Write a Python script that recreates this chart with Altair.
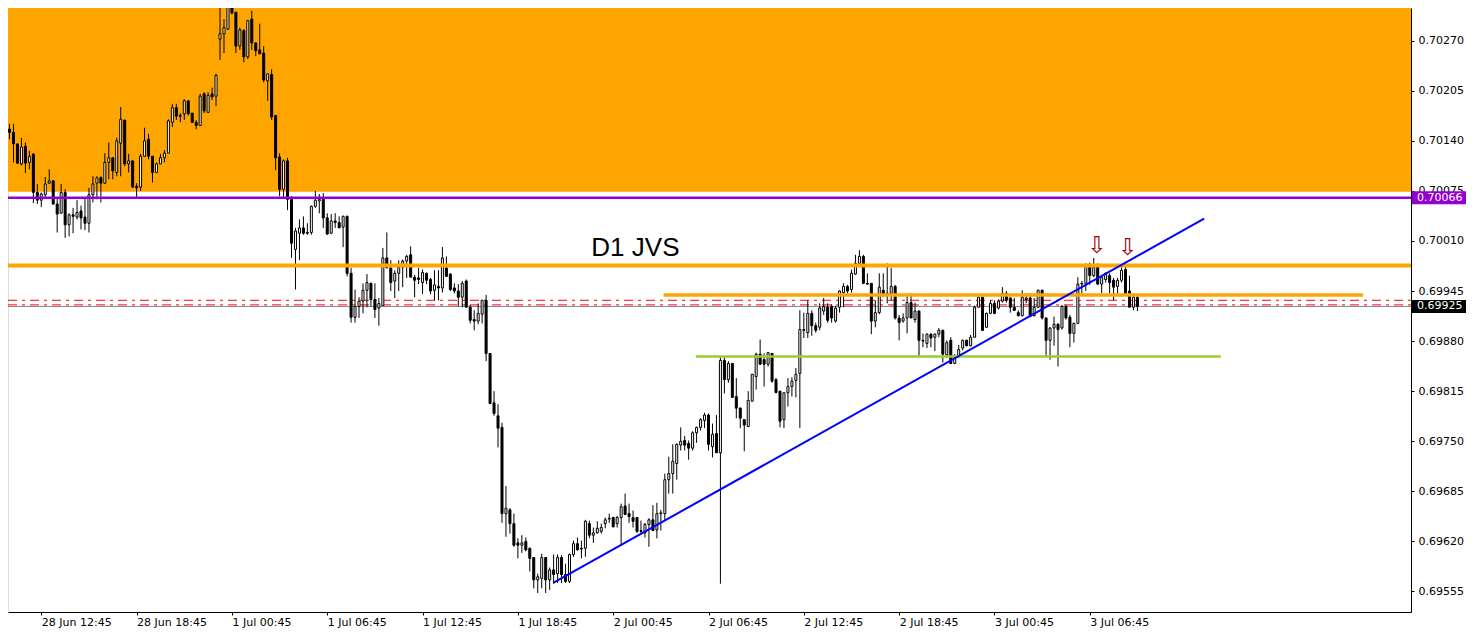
import altair as alt
import pandas as pd

# AUDUSD-like M15 candles, quotes in points (x 1e-5)
opens = [70137,70155,70151,70136,70110,70133,70112,70123,70073,70063,
70070,70085,70088,70058,70046,70073,70031,70044,70041,70049,
70041,70033,70070,70085,70092,70085,70112,70118,70099,70137,
70167,70110,70114,70081,70080,70120,70142,70120,70099,70110,
70118,70124,70164,70183,70173,70175,70192,70176,70164,70160,
70201,70177,70201,70198,70272,70279,70285,70316,70307,70263,
70283,70249,70298,70267,70258,70254,70218,70226,70173,70119,
70077,70114,70064,69999,70020,70027,70021,70021,70055,70062,
70064,70040,70020,70036,70034,70028,70042,69968,69911,69925,
69932,69946,69955,69934,69923,69926,69988,69975,69958,69968,
69976,69984,69992,69963,69962,69956,69968,69960,69946,69951,
69949,69975,69967,69949,69945,69937,69958,69924,69908,69906,
69915,69933,69864,69800,69783,69768,69656,69661,69643,69618,
69615,69620,69611,69599,69570,69572,69599,69570,69583,69578,
69599,69577,69568,69603,69617,69611,69611,69643,69628,69631,
69633,69643,69650,69651,69643,69651,69666,69656,69651,69651,
69634,69631,69642,69648,69635,69656,69656,69700,69708,69721,
69745,69751,69747,69741,69761,69768,69777,69784,69743,69760,
69735,69855,69830,69851,69808,69793,69778,69769,69802,69834,
69863,69856,69850,69864,69830,69815,69778,69813,69821,69829,
69838,69895,69891,69916,69900,69898,69919,69924,69925,69906,
69924,69943,69951,69947,69967,69981,69990,69955,69955,69906,
69917,69946,69942,69942,69951,69910,69906,69910,69930,69908,
69919,69881,69877,69889,69885,69889,69894,69862,69881,69851,
69859,69871,69881,69874,69885,69924,69937,69898,69916,69929,
69923,69932,69942,69936,69924,69917,69913,69934,69936,69913,
69924,69946,69910,69881,69897,69902,69897,69925,69911,69890,
69903,69954,69955,69977,69965,69976,69954,69960,69965,69959,
69951,69959,69973,69945,69924,69937]

highs = [70162,70162,70162,70136,70144,70138,70127,70123,70084,70073,
70093,70103,70089,70066,70084,70077,70046,70053,70063,70056,
70066,70079,70094,70094,70094,70124,70138,70119,70144,70184,
70167,70123,70114,70085,70123,70157,70149,70120,70112,70123,
70128,70168,70188,70188,70176,70194,70192,70176,70167,70201,
70203,70203,70209,70227,70320,70298,70321,70316,70307,70287,
70285,70297,70309,70268,70292,70263,70227,70233,70173,70124,
70116,70118,70068,70027,70038,70042,70033,70056,70075,70071,
70072,70046,70045,70046,70042,70043,70043,69975,69947,69937,
69955,69967,69956,69955,69936,70001,70021,69985,69972,69985,
69986,69992,70003,69966,69975,69973,69969,69962,69972,69972,
70002,69990,69968,69955,69954,69958,69960,69927,69920,69929,
69933,69940,69864,69815,69798,69774,69692,69663,69656,69624,
69628,69625,69612,69599,69578,69604,69599,69586,69603,69603,
69602,69591,69604,69621,69625,69621,69648,69647,69638,69646,
69643,69651,69656,69652,69653,69669,69682,69669,69660,69651,
69647,69644,69650,69667,69670,69661,69708,69730,69746,69747,
69768,69757,69751,69763,69769,69780,69787,69786,69773,69784,
69859,69859,69854,69851,69832,69794,69778,69815,69837,69865,
69882,69864,69865,69864,69832,69815,69813,69832,69833,69845,
69920,69917,69933,69920,69904,69929,69936,69929,69928,69926,
69946,69955,69953,69973,69992,69998,69992,69968,69955,69933,
69968,69968,69981,69975,69953,69914,69916,69940,69942,69930,
69920,69890,69890,69890,69890,69897,69895,69881,69885,69863,
69875,69882,69882,69888,69926,69937,69937,69917,69933,69933,
69934,69950,69945,69937,69936,69920,69946,69942,69942,69936,
69947,69947,69911,69898,69912,69903,69927,69927,69914,69904,
69963,69958,69981,69982,69988,69981,69964,69969,69968,69962,
69962,69976,69977,69965,69938,69938]

lows = [70119,70142,70112,70110,70108,70098,70103,70059,70058,70054,
70067,70084,70057,70021,70046,70014,70016,70020,70038,70025,
70024,70021,70060,70064,70060,70084,70090,70090,70094,70094,
70107,70099,70079,70067,70075,70119,70116,70086,70098,70110,
70112,70124,70158,70167,70164,70167,70173,70164,70155,70160,
70176,70176,70193,70185,70245,70254,70284,70304,70254,70258,
70242,70246,70258,70250,70253,70216,70192,70167,70102,70068,
70067,70050,69988,69947,69985,70018,70018,70018,70053,70046,
70027,70018,70019,70027,70027,70002,69964,69904,69904,69910,
69916,69924,69925,69910,69900,69926,69975,69945,69936,69945,
69950,69962,69963,69937,69954,69941,69954,69941,69933,69933,
69943,69964,69945,69942,69925,69924,69924,69903,69894,69902,
69903,69854,69798,69783,69742,69644,69626,69630,69613,69598,
69605,69607,69581,69559,69553,69559,69553,69557,69565,69566,
69566,69566,69566,69600,69608,69598,69600,69624,69618,69630,
69630,69637,69644,69638,69638,69615,69654,69644,69638,69631,
69630,69625,69613,69634,69624,69634,69647,69682,69682,69700,
69738,69738,69726,69738,69748,69764,69767,69738,69729,69735,
69565,69812,69826,69806,69780,69767,69737,69769,69802,69817,
69849,69821,69847,69826,69813,69768,69767,69795,69808,69807,
69767,69884,69884,69887,69891,69894,69914,69904,69904,69904,
69917,69924,69942,69943,69966,69978,69954,69953,69889,69898,
69915,69937,69929,69933,69908,69881,69904,69890,69910,69904,
69859,69872,69871,69872,69867,69885,69852,69859,69850,69850,
69859,69868,69873,69873,69885,69924,69893,69897,69915,69915,
69921,69930,69930,69917,69919,69912,69912,69929,69911,69912,
69923,69908,69860,69856,69874,69847,69895,69908,69872,69878,
69902,69942,69945,69953,69963,69953,69942,69956,69942,69933,
69942,69956,69942,69924,69920,69919]

closes = [70155,70151,70136,70111,70132,70111,70120,70073,70063,70071,
70084,70088,70058,70045,70073,70031,70044,70042,70047,70040,
70033,70070,70084,70092,70085,70112,70118,70101,70140,70168,
70110,70114,70080,70079,70120,70140,70120,70099,70110,70118,
70124,70166,70183,70172,70172,70192,70175,70164,70160,70198,
70179,70199,70197,70225,70279,70287,70315,70306,70263,70284,
70249,70296,70267,70257,70253,70219,70227,70171,70118,70077,
70114,70064,70007,70023,70027,70020,70020,70055,70063,70064,
70040,70019,70036,70034,70027,70042,69968,69911,69925,69932,
69946,69956,69934,69921,69929,69988,69975,69956,69968,69976,
69984,69990,69963,69959,69960,69969,69959,69945,69953,69949,
69988,69964,69947,69945,69937,69955,69924,69907,69906,69916,
69933,69864,69799,69786,69767,69656,69663,69643,69615,69615,
69618,69609,69598,69570,69574,69599,69570,69583,69577,69599,
69577,69568,69603,69617,69609,69610,69646,69628,69631,69637,
69638,69648,69649,69639,69651,69665,69655,69652,69646,69633,
69633,69642,69648,69634,69656,69657,69700,69708,69724,69746,
69750,69745,69741,69761,69768,69778,69784,69746,69759,69735,
69855,69830,69851,69807,69793,69780,69771,69803,69837,69863,
69850,69850,69865,69828,69813,69776,69813,69821,69828,69837,
69895,69894,69916,69900,69894,69923,69925,69907,69910,69923,
69945,69951,69945,69968,69981,69990,69955,69954,69906,69917,
69950,69940,69941,69951,69910,69904,69910,69930,69910,69919,
69881,69880,69889,69884,69889,69894,69863,69878,69851,69859,
69869,69881,69874,69885,69924,69937,69894,69916,69929,69916,
69932,69942,69933,69924,69920,69913,69937,69936,69912,69924,
69946,69910,69881,69897,69902,69895,69925,69910,69890,69903,
69954,69955,69977,69965,69976,69954,69963,69968,69956,69950,
69959,69972,69942,69924,69937,69925]

# time axis labels (bar index of each labelled bar)
tick_bars = [9, 33, 57, 81, 105, 129, 153, 177, 201, 225, 249, 273]
tick_labels = ["28 Jun 12:45", "28 Jun 18:45", "1 Jul 00:45", "1 Jul 06:45",
               "1 Jul 12:45", "1 Jul 18:45", "2 Jul 00:45", "2 Jul 06:45",
               "2 Jul 12:45", "2 Jul 18:45", "3 Jul 00:45", "3 Jul 06:45"]
price_ticks = [0.70270, 0.70205, 0.70140, 0.70075, 0.70010, 0.69945,
               0.69880, 0.69815, 0.69750, 0.69685, 0.69620, 0.69555]

# drawn objects
zone_low = 0.70074            # orange supply zone bottom
purple_level = 0.70066
d1_level = 0.69978            # D1 JVS level
red_levels = [0.69933, 0.69927]
bid_level = 0.69925
seg_orange = {"bar": [165.7, 341.8], "price": [0.69940, 0.69940]}
seg_green = {"bar": [173.8, 306.0], "price": [0.69860, 0.69860]}
trend_blue = {"bar": [137.9, 301.8], "price": [0.69566, 0.70039]}
text_label = {"bar": [147.5], "price": [0.69990], "txt": ["D1 JVS"]}
arrows = {"bar": [274.8, 282.55], "price": [0.70003, 0.70001]}

W, H = 1403, 604
XDOM = [1.875, 1.875 + W / 4]
YDOM = [0.6952830, 0.7031246]

df = pd.DataFrame({
    "bar": list(range(len(opens))),
    "o": [v / 1e5 for v in opens],
    "h": [v / 1e5 for v in highs],
    "l": [v / 1e5 for v in lows],
    "c": [v / 1e5 for v in closes],
})

xs = alt.Scale(domain=XDOM, nice=False, zero=False)
ys = alt.Scale(domain=YDOM, nice=False, zero=False)

label_expr = "[" + ",".join("'%s'" % t for t in tick_labels) + "][indexof([" + \
    ",".join(str(b) for b in tick_bars) + "], datum.value)]"

xaxis = alt.Axis(values=tick_bars, labelExpr=label_expr, title=None, grid=False,
                 tickSize=3, tickColor="black", domainColor="black",
                 labelAlign="left", labelFont="DejaVu Sans", labelFontSize=11,
                 labelColor="black", labelPadding=1, labelOverlap=False,
                 labelFlush=False)
yaxis = alt.Axis(values=price_ticks, format=".5f", orient="right", title=None,
                 grid=False, tickSize=3, tickColor="black", domainColor="black",
                 labelFont="DejaVu Sans", labelFontSize=11, labelColor="black",
                 labelPadding=4, labelOverlap=False, labelFlush=False)

base = alt.Chart(df)

wicks = base.mark_rule(color="black", strokeWidth=1, clip=True).encode(
    x=alt.X("bar:Q", scale=xs, axis=xaxis),
    y=alt.Y("l:Q", scale=ys, axis=yaxis),
    y2="h:Q",
)
bodies = base.mark_bar(size=2, stroke="black", strokeWidth=1, clip=True).encode(
    x=alt.X("bar:Q", scale=xs),
    y=alt.Y("o:Q", scale=ys),
    y2="c:Q",
    fill=alt.condition("datum.c >= datum.o", alt.value("white"), alt.value("black")),
)

def hline(level, color, width, dash=None):
    kw = dict(color=color, strokeWidth=width, clip=True)
    if dash:
        kw["strokeDash"] = dash
    return alt.Chart(pd.DataFrame({"p": [level]})).mark_rule(**kw).encode(
        y=alt.Y("p:Q", scale=ys), x=alt.value(0), x2=alt.value(W))

zone = alt.Chart(pd.DataFrame({"p": [zone_low]})).mark_rect(
    color="#FFA500", clip=True).encode(
    y=alt.Y("p:Q", scale=ys), y2=alt.value(0), x=alt.value(0), x2=alt.value(W))

red1 = hline(red_levels[0], "#FF0000", 1, [9, 5, 3, 5])
red2 = hline(red_levels[1], "#FF0000", 1, [9, 5, 3, 5])
bid = hline(bid_level, "#778899", 1)
purple = hline(purple_level, "#9400D3", 2.5)
d1 = hline(d1_level, "#FFA500", 4)

def seg(d, color, width):
    return alt.Chart(pd.DataFrame(d)).mark_line(
        color=color, strokeWidth=width, clip=True).encode(
        x=alt.X("bar:Q", scale=xs), y=alt.Y("price:Q", scale=ys))

oseg = seg(seg_orange, "#FFA500", 3.5)
gseg = seg(seg_green, "#9ACD32", 2.5)
blue = seg(trend_blue, "#0000FF", 2)

txt = alt.Chart(pd.DataFrame(text_label)).mark_text(
    align="left", baseline="alphabetic", font="Liberation Sans", fontSize=26,
    color="black").encode(
    x=alt.X("bar:Q", scale=xs), y=alt.Y("price:Q", scale=ys), text="txt:N")

arr = alt.Chart(pd.DataFrame(arrows)).mark_text(
    text="\u21e9", font="DejaVu Sans", fontSize=23, color="#A00000",
    baseline="middle", align="center").encode(
    x=alt.X("bar:Q", scale=xs), y=alt.Y("price:Q", scale=ys))

def tag(level, bg):
    d = pd.DataFrame({"p": [level], "t": ["%.5f" % level]})
    box = alt.Chart(d).mark_rule(color=bg, strokeWidth=13).encode(
        y=alt.Y("p:Q", scale=ys), x=alt.value(W + 1), x2=alt.value(W + 55))
    t = alt.Chart(d).mark_text(align="left", baseline="middle", font="DejaVu Sans",
                               fontSize=11, color="white").encode(
        y=alt.Y("p:Q", scale=ys), x=alt.value(W + 6), text="t:N")
    return box + t

chart = alt.layer(
    zone, red1, red2, bid, wicks, bodies, d1, purple, oseg, gseg, blue,
    txt, arr, tag(purple_level, "#9400D3"), tag(bid_level, "black")
).properties(
    width=W, height=H,
    autosize=alt.AutoSizeParams(type="none"),
    padding={"left": 0, "top": 0, "right": 55, "bottom": 16},
).configure_view(stroke=None).configure(background="white")

chart.save("out.html", embed_options={"renderer": "svg", "actions": False})
